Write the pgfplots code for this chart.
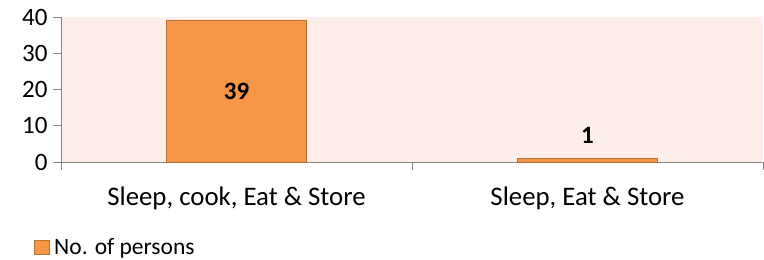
\documentclass[border=0pt]{standalone}
\usepackage{pgfplots}
\pgfplotsset{compat=1.18}
\usepackage{fontspec}
\setmainfont{Carlito}
\definecolor{bgpink}{HTML}{FDEEEA}
\definecolor{barfill}{HTML}{F79646}
\definecolor{baredge}{HTML}{B8702F}
\definecolor{axgray}{HTML}{868686}
\begin{document}
\begin{tikzpicture}[x=1pt,y=1pt]
\begin{axis}[
  at={(61pt,98pt)}, anchor=south west,
  scale only axis, width=702pt, height=145pt,
  xmin=-0.5, xmax=1.5, ymin=0, ymax=40,
  axis x line*=bottom, axis y line*=left,
  axis line style={axgray, line width=1pt},
  axis background/.style={fill=bgpink},
  ytick={0,10,20,30,40},
  xtick={-0.5,0.5,1.5},
  x tick label as interval,
  xticklabels={{Sleep, cook, Eat \& Store}, {Sleep, Eat \& Store}},
  tick style={axgray, line width=1pt},
  tick align=outside,
  major tick length=8pt,
  /pgf/number format/assume math mode=true,
  ticklabel style={font=\fontsize{25}{30}\selectfont, text=black},
  x tick label style={font=\fontsize{26.8}{32}\selectfont, yshift=-13pt},
  y tick label style={xshift=-2pt},
  bar width=0.4,
  legend style={at={(axis description cs:0,0)}, anchor=north west, xshift=-30pt, yshift=-72pt, draw=none, fill=none, font=\fontsize{23.5}{28}\selectfont},
  legend image code/.code={\draw[#1, line width=1pt] (0pt,-7pt) rectangle (15pt,7pt); \path (17pt,0pt);},
  nodes near coords,
  visualization depends on={\thisrow{shift} \as \myshift},
  every node near coord/.append style={font=\bfseries\fontsize{25}{30}\selectfont, anchor=center, yshift=\myshift, text=black},
  point meta=explicit symbolic,
]
\addplot[ybar, fill=barfill, draw=baredge, line width=1pt] table[x=x, y=y, meta=y] {
x y shift
0 39 -71
1 1 23
};
\addlegendentry{No. of persons}
\end{axis}
\pgfresetboundingbox
\path[use as bounding box] (0,0) rectangle (764,260);
\end{tikzpicture}
\end{document}
